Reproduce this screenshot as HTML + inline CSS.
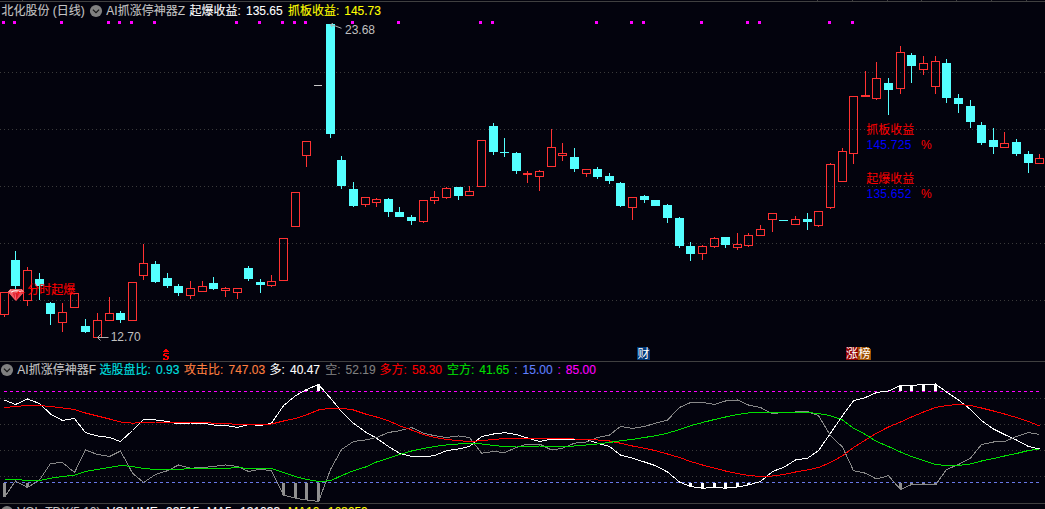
<!DOCTYPE html>
<html lang="zh"><head><meta charset="utf-8"><title>Stock chart</title>
<style>
html,body{margin:0;padding:0;background:#03030d}
#app{position:relative;width:1045px;height:509px;overflow:hidden;background:#03030d;font:12px/14px "Liberation Sans","Noto Sans CJK SC",sans-serif}
#chart{position:absolute;left:0;top:0}
.t{position:absolute;white-space:pre;font:12px/14px "Liberation Sans","Noto Sans CJK SC",sans-serif}
.b{-webkit-text-stroke:0.1px currentColor;word-spacing:1.7px}
</style></head><body>
<div id="app">
<svg id="chart" width="1045" height="509" viewBox="0 0 1045 509" shape-rendering="crispEdges">
<line x1="0" y1="72.5" x2="1045" y2="72.5" stroke="#3a3a3a" stroke-width="1" stroke-dasharray="1 3"/>
<line x1="0" y1="129.5" x2="1045" y2="129.5" stroke="#3a3a3a" stroke-width="1" stroke-dasharray="1 3"/>
<line x1="0" y1="186.5" x2="1045" y2="186.5" stroke="#3a3a3a" stroke-width="1" stroke-dasharray="1 3"/>
<line x1="0" y1="243.5" x2="1045" y2="243.5" stroke="#3a3a3a" stroke-width="1" stroke-dasharray="1 3"/>
<line x1="0" y1="300.5" x2="1045" y2="300.5" stroke="#3a3a3a" stroke-width="1" stroke-dasharray="1 3"/>
<line x1="0" y1="398.5" x2="1045" y2="398.5" stroke="#3a3a3a" stroke-width="1" stroke-dasharray="1 3"/>
<line x1="0" y1="424.5" x2="1045" y2="424.5" stroke="#3a3a3a" stroke-width="1" stroke-dasharray="1 3"/>
<line x1="0" y1="450.5" x2="1045" y2="450.5" stroke="#3a3a3a" stroke-width="1" stroke-dasharray="1 3"/>
<line x1="0" y1="476.5" x2="1045" y2="476.5" stroke="#3a3a3a" stroke-width="1" stroke-dasharray="1 3"/>
<rect x="0" y="1" width="1045" height="1" fill="#404040"/>
<rect x="22" y="0" width="1" height="1" fill="#404040"/>
<rect x="817" y="0" width="1" height="1" fill="#404040"/>
<rect x="852" y="0" width="1" height="1" fill="#404040"/>
<rect x="887" y="0" width="1" height="1" fill="#404040"/>
<rect x="921" y="0" width="1" height="1" fill="#404040"/>
<rect x="956" y="0" width="1" height="1" fill="#404040"/>
<rect x="991" y="0" width="1" height="1" fill="#404040"/>
<rect x="1026" y="0" width="1" height="1" fill="#404040"/>
<rect x="0" y="361" width="1045" height="1" fill="#404040"/>
<rect x="0" y="503" width="1045" height="1" fill="#404040"/>
<rect x="2" y="21" width="3" height="3" fill="#ff00ff"/>
<rect x="13" y="21" width="3" height="3" fill="#ff00ff"/>
<rect x="60" y="21" width="3" height="3" fill="#ff00ff"/>
<rect x="107" y="21" width="3" height="3" fill="#ff00ff"/>
<rect x="118" y="21" width="3" height="3" fill="#ff00ff"/>
<rect x="130" y="21" width="3" height="3" fill="#ff00ff"/>
<rect x="153" y="21" width="3" height="3" fill="#ff00ff"/>
<rect x="235" y="21" width="3" height="3" fill="#ff00ff"/>
<rect x="258" y="21" width="3" height="3" fill="#ff00ff"/>
<rect x="281" y="21" width="3" height="3" fill="#ff00ff"/>
<rect x="293" y="21" width="3" height="3" fill="#ff00ff"/>
<rect x="304" y="21" width="3" height="3" fill="#ff00ff"/>
<rect x="351" y="21" width="3" height="3" fill="#ff00ff"/>
<rect x="397" y="21" width="3" height="3" fill="#ff00ff"/>
<rect x="479" y="21" width="3" height="3" fill="#ff00ff"/>
<rect x="491" y="21" width="3" height="3" fill="#ff00ff"/>
<rect x="595" y="21" width="3" height="3" fill="#ff00ff"/>
<rect x="630" y="21" width="3" height="3" fill="#ff00ff"/>
<rect x="642" y="21" width="3" height="3" fill="#ff00ff"/>
<rect x="700" y="21" width="3" height="3" fill="#ff00ff"/>
<rect x="746" y="21" width="3" height="3" fill="#ff00ff"/>
<rect x="758" y="21" width="3" height="3" fill="#ff00ff"/>
<rect x="828" y="21" width="3" height="3" fill="#ff00ff"/>
<rect x="851" y="21" width="3" height="3" fill="#ff00ff"/>
<rect x="4" y="315" width="1" height="2" fill="#ff3232"/>
<rect x="0.5" y="292.5" width="8" height="22" fill="none" stroke="#ff3232" stroke-width="1"/>
<rect x="15" y="251" width="1" height="9" fill="#54ffff"/>
<rect x="15" y="286" width="1" height="4" fill="#54ffff"/>
<rect x="11" y="260" width="9" height="26" fill="#54ffff"/>
<rect x="27" y="267" width="1" height="3" fill="#ff3232"/>
<rect x="27" y="301" width="1" height="5" fill="#ff3232"/>
<rect x="23.5" y="270.5" width="8" height="30" fill="none" stroke="#ff3232" stroke-width="1"/>
<rect x="39" y="273" width="1" height="6" fill="#54ffff"/>
<rect x="39" y="286" width="1" height="14" fill="#54ffff"/>
<rect x="35" y="279" width="9" height="7" fill="#54ffff"/>
<rect x="50" y="302" width="1" height="1" fill="#54ffff"/>
<rect x="50" y="314" width="1" height="11" fill="#54ffff"/>
<rect x="46" y="303" width="9" height="11" fill="#54ffff"/>
<rect x="62" y="303" width="1" height="9" fill="#ff3232"/>
<rect x="62" y="323" width="1" height="9" fill="#ff3232"/>
<rect x="58.5" y="312.5" width="8" height="10" fill="none" stroke="#ff3232" stroke-width="1"/>
<rect x="70.5" y="293.5" width="8" height="14" fill="none" stroke="#ff3232" stroke-width="1"/>
<rect x="85" y="319" width="1" height="7" fill="#54ffff"/>
<rect x="85" y="332" width="1" height="1" fill="#54ffff"/>
<rect x="81" y="326" width="9" height="6" fill="#54ffff"/>
<rect x="97" y="313" width="1" height="7" fill="#ff3232"/>
<rect x="93.5" y="320.5" width="8" height="17" fill="none" stroke="#ff3232" stroke-width="1"/>
<rect x="109" y="297" width="1" height="16" fill="#ff3232"/>
<rect x="105.5" y="313.5" width="8" height="7" fill="none" stroke="#ff3232" stroke-width="1"/>
<rect x="120" y="311" width="1" height="2" fill="#54ffff"/>
<rect x="120" y="320" width="1" height="3" fill="#54ffff"/>
<rect x="116" y="313" width="9" height="7" fill="#54ffff"/>
<rect x="128.5" y="282.5" width="8" height="38" fill="none" stroke="#ff3232" stroke-width="1"/>
<rect x="143" y="244" width="1" height="19" fill="#ff3232"/>
<rect x="143" y="276" width="1" height="4" fill="#ff3232"/>
<rect x="139.5" y="263.5" width="8" height="12" fill="none" stroke="#ff3232" stroke-width="1"/>
<rect x="155" y="261" width="1" height="3" fill="#54ffff"/>
<rect x="155" y="282" width="1" height="1" fill="#54ffff"/>
<rect x="151" y="264" width="9" height="18" fill="#54ffff"/>
<rect x="167" y="273" width="1" height="5" fill="#54ffff"/>
<rect x="167" y="286" width="1" height="2" fill="#54ffff"/>
<rect x="163" y="278" width="9" height="8" fill="#54ffff"/>
<rect x="178" y="284" width="1" height="2" fill="#54ffff"/>
<rect x="178" y="293" width="1" height="3" fill="#54ffff"/>
<rect x="174" y="286" width="9" height="7" fill="#54ffff"/>
<rect x="190" y="281" width="1" height="7" fill="#ff3232"/>
<rect x="190" y="296" width="1" height="3" fill="#ff3232"/>
<rect x="186.5" y="288.5" width="8" height="7" fill="none" stroke="#ff3232" stroke-width="1"/>
<rect x="202" y="281" width="1" height="5" fill="#ff3232"/>
<rect x="198.5" y="286.5" width="8" height="5" fill="none" stroke="#ff3232" stroke-width="1"/>
<rect x="213" y="277" width="1" height="6" fill="#54ffff"/>
<rect x="213" y="289" width="1" height="1" fill="#54ffff"/>
<rect x="209" y="283" width="9" height="6" fill="#54ffff"/>
<rect x="225" y="287" width="1" height="1" fill="#ff3232"/>
<rect x="225" y="291" width="1" height="6" fill="#ff3232"/>
<rect x="221.5" y="288.5" width="8" height="2" fill="none" stroke="#ff3232" stroke-width="1"/>
<rect x="237" y="293" width="1" height="6" fill="#ff3232"/>
<rect x="233.5" y="288.5" width="8" height="4" fill="none" stroke="#ff3232" stroke-width="1"/>
<rect x="248" y="266" width="1" height="2" fill="#54ffff"/>
<rect x="248" y="279" width="1" height="2" fill="#54ffff"/>
<rect x="244" y="268" width="9" height="11" fill="#54ffff"/>
<rect x="260" y="279" width="1" height="3" fill="#54ffff"/>
<rect x="260" y="285" width="1" height="8" fill="#54ffff"/>
<rect x="256" y="282" width="9" height="3" fill="#54ffff"/>
<rect x="271" y="275" width="1" height="6" fill="#ff3232"/>
<rect x="271" y="286" width="1" height="1" fill="#ff3232"/>
<rect x="267.5" y="281.5" width="8" height="4" fill="none" stroke="#ff3232" stroke-width="1"/>
<rect x="279.5" y="238.5" width="8" height="42" fill="none" stroke="#ff3232" stroke-width="1"/>
<rect x="291.5" y="192.5" width="8" height="34" fill="none" stroke="#ff3232" stroke-width="1"/>
<rect x="306" y="156" width="1" height="11" fill="#ff3232"/>
<rect x="302.5" y="141.5" width="8" height="14" fill="none" stroke="#ff3232" stroke-width="1"/>
<rect x="330" y="134" width="1" height="4" fill="#54ffff"/>
<rect x="326" y="24" width="9" height="110" fill="#54ffff"/>
<rect x="341" y="156" width="1" height="4" fill="#54ffff"/>
<rect x="341" y="186" width="1" height="3" fill="#54ffff"/>
<rect x="337" y="160" width="9" height="26" fill="#54ffff"/>
<rect x="353" y="182" width="1" height="7" fill="#54ffff"/>
<rect x="353" y="206" width="1" height="1" fill="#54ffff"/>
<rect x="349" y="189" width="9" height="17" fill="#54ffff"/>
<rect x="365" y="205" width="1" height="2" fill="#ff3232"/>
<rect x="361.5" y="197.5" width="8" height="7" fill="none" stroke="#ff3232" stroke-width="1"/>
<rect x="376" y="198" width="1" height="1" fill="#ff3232"/>
<rect x="376" y="203" width="1" height="4" fill="#ff3232"/>
<rect x="372.5" y="199.5" width="8" height="3" fill="none" stroke="#ff3232" stroke-width="1"/>
<rect x="388" y="198" width="1" height="1" fill="#54ffff"/>
<rect x="388" y="212" width="1" height="5" fill="#54ffff"/>
<rect x="384" y="199" width="9" height="13" fill="#54ffff"/>
<rect x="399" y="207" width="1" height="5" fill="#54ffff"/>
<rect x="395" y="212" width="9" height="5" fill="#54ffff"/>
<rect x="411" y="215" width="1" height="2" fill="#54ffff"/>
<rect x="411" y="221" width="1" height="4" fill="#54ffff"/>
<rect x="407" y="217" width="9" height="4" fill="#54ffff"/>
<rect x="423" y="222" width="1" height="1" fill="#ff3232"/>
<rect x="419.5" y="200.5" width="8" height="21" fill="none" stroke="#ff3232" stroke-width="1"/>
<rect x="434" y="191" width="1" height="6" fill="#ff3232"/>
<rect x="434" y="201" width="1" height="3" fill="#ff3232"/>
<rect x="430.5" y="197.5" width="8" height="3" fill="none" stroke="#ff3232" stroke-width="1"/>
<rect x="446" y="187" width="1" height="1" fill="#ff3232"/>
<rect x="446" y="198" width="1" height="1" fill="#ff3232"/>
<rect x="442.5" y="188.5" width="8" height="9" fill="none" stroke="#ff3232" stroke-width="1"/>
<rect x="458" y="196" width="1" height="4" fill="#54ffff"/>
<rect x="454" y="187" width="9" height="9" fill="#54ffff"/>
<rect x="469" y="186" width="1" height="5" fill="#ff3232"/>
<rect x="465.5" y="191.5" width="8" height="4" fill="none" stroke="#ff3232" stroke-width="1"/>
<rect x="477.5" y="140.5" width="8" height="46" fill="none" stroke="#ff3232" stroke-width="1"/>
<rect x="493" y="123" width="1" height="3" fill="#54ffff"/>
<rect x="493" y="152" width="1" height="3" fill="#54ffff"/>
<rect x="489" y="126" width="9" height="26" fill="#54ffff"/>
<rect x="504" y="138" width="1" height="14" fill="#54ffff"/>
<rect x="504" y="153" width="1" height="4" fill="#54ffff"/>
<rect x="500" y="152" width="9" height="1" fill="#54ffff"/>
<rect x="516" y="152" width="1" height="1" fill="#54ffff"/>
<rect x="516" y="171" width="1" height="3" fill="#54ffff"/>
<rect x="512" y="153" width="9" height="18" fill="#54ffff"/>
<rect x="527" y="171" width="1" height="2" fill="#ff3232"/>
<rect x="527" y="175" width="1" height="8" fill="#ff3232"/>
<rect x="523" y="173" width="9" height="2" fill="#ff3232"/>
<rect x="539" y="170" width="1" height="1" fill="#ff3232"/>
<rect x="539" y="177" width="1" height="14" fill="#ff3232"/>
<rect x="535.5" y="171.5" width="8" height="5" fill="none" stroke="#ff3232" stroke-width="1"/>
<rect x="551" y="129" width="1" height="18" fill="#ff3232"/>
<rect x="547.5" y="147.5" width="8" height="19" fill="none" stroke="#ff3232" stroke-width="1"/>
<rect x="562" y="143" width="1" height="10" fill="#ff3232"/>
<rect x="562" y="156" width="1" height="5" fill="#ff3232"/>
<rect x="558.5" y="153.5" width="8" height="2" fill="none" stroke="#ff3232" stroke-width="1"/>
<rect x="574" y="148" width="1" height="9" fill="#54ffff"/>
<rect x="574" y="169" width="1" height="3" fill="#54ffff"/>
<rect x="570" y="157" width="9" height="12" fill="#54ffff"/>
<rect x="586" y="174" width="1" height="3" fill="#ff3232"/>
<rect x="582.5" y="169.5" width="8" height="4" fill="none" stroke="#ff3232" stroke-width="1"/>
<rect x="597" y="167" width="1" height="2" fill="#54ffff"/>
<rect x="597" y="177" width="1" height="2" fill="#54ffff"/>
<rect x="593" y="169" width="9" height="8" fill="#54ffff"/>
<rect x="609" y="173" width="1" height="3" fill="#54ffff"/>
<rect x="609" y="181" width="1" height="3" fill="#54ffff"/>
<rect x="605" y="176" width="9" height="5" fill="#54ffff"/>
<rect x="620" y="182" width="1" height="1" fill="#54ffff"/>
<rect x="620" y="206" width="1" height="1" fill="#54ffff"/>
<rect x="616" y="183" width="9" height="23" fill="#54ffff"/>
<rect x="632" y="208" width="1" height="12" fill="#ff3232"/>
<rect x="628.5" y="197.5" width="8" height="10" fill="none" stroke="#ff3232" stroke-width="1"/>
<rect x="644" y="195" width="1" height="1" fill="#54ffff"/>
<rect x="644" y="200" width="1" height="3" fill="#54ffff"/>
<rect x="640" y="196" width="9" height="4" fill="#54ffff"/>
<rect x="651" y="200" width="9" height="6" fill="#54ffff"/>
<rect x="667" y="204" width="1" height="1" fill="#54ffff"/>
<rect x="667" y="218" width="1" height="5" fill="#54ffff"/>
<rect x="663" y="205" width="9" height="13" fill="#54ffff"/>
<rect x="679" y="217" width="1" height="1" fill="#54ffff"/>
<rect x="679" y="246" width="1" height="2" fill="#54ffff"/>
<rect x="675" y="218" width="9" height="28" fill="#54ffff"/>
<rect x="690" y="242" width="1" height="4" fill="#54ffff"/>
<rect x="690" y="254" width="1" height="7" fill="#54ffff"/>
<rect x="686" y="246" width="9" height="8" fill="#54ffff"/>
<rect x="702" y="245" width="1" height="1" fill="#ff3232"/>
<rect x="702" y="254" width="1" height="6" fill="#ff3232"/>
<rect x="698.5" y="246.5" width="8" height="7" fill="none" stroke="#ff3232" stroke-width="1"/>
<rect x="714" y="237" width="1" height="1" fill="#ff3232"/>
<rect x="714" y="247" width="1" height="1" fill="#ff3232"/>
<rect x="710.5" y="238.5" width="8" height="8" fill="none" stroke="#ff3232" stroke-width="1"/>
<rect x="725" y="245" width="1" height="3" fill="#54ffff"/>
<rect x="721" y="237" width="9" height="8" fill="#54ffff"/>
<rect x="737" y="233" width="1" height="11" fill="#ff3232"/>
<rect x="737" y="248" width="1" height="2" fill="#ff3232"/>
<rect x="733.5" y="244.5" width="8" height="3" fill="none" stroke="#ff3232" stroke-width="1"/>
<rect x="748" y="233" width="1" height="2" fill="#ff3232"/>
<rect x="748" y="246" width="1" height="1" fill="#ff3232"/>
<rect x="744.5" y="235.5" width="8" height="10" fill="none" stroke="#ff3232" stroke-width="1"/>
<rect x="760" y="225" width="1" height="4" fill="#ff3232"/>
<rect x="756.5" y="229.5" width="8" height="6" fill="none" stroke="#ff3232" stroke-width="1"/>
<rect x="772" y="220" width="1" height="12" fill="#ff3232"/>
<rect x="768.5" y="213.5" width="8" height="6" fill="none" stroke="#ff3232" stroke-width="1"/>
<rect x="779" y="220" width="9" height="1" fill="#54ffff"/>
<rect x="795" y="216" width="1" height="3" fill="#ff3232"/>
<rect x="791.5" y="219.5" width="8" height="5" fill="none" stroke="#ff3232" stroke-width="1"/>
<rect x="807" y="213" width="1" height="6" fill="#54ffff"/>
<rect x="807" y="222" width="1" height="8" fill="#54ffff"/>
<rect x="803" y="219" width="9" height="3" fill="#54ffff"/>
<rect x="818" y="226" width="1" height="1" fill="#ff3232"/>
<rect x="814.5" y="211.5" width="8" height="14" fill="none" stroke="#ff3232" stroke-width="1"/>
<rect x="830" y="163" width="1" height="1" fill="#ff3232"/>
<rect x="830" y="208" width="1" height="1" fill="#ff3232"/>
<rect x="826.5" y="164.5" width="8" height="43" fill="none" stroke="#ff3232" stroke-width="1"/>
<rect x="842" y="148" width="1" height="3" fill="#ff3232"/>
<rect x="838.5" y="151.5" width="8" height="30" fill="none" stroke="#ff3232" stroke-width="1"/>
<rect x="853" y="154" width="1" height="10" fill="#ff3232"/>
<rect x="849.5" y="96.5" width="8" height="57" fill="none" stroke="#ff3232" stroke-width="1"/>
<rect x="865" y="71" width="1" height="24" fill="#ff3232"/>
<rect x="861" y="95" width="9" height="2" fill="#ff3232"/>
<rect x="876" y="62" width="1" height="16" fill="#ff3232"/>
<rect x="876" y="99" width="1" height="1" fill="#ff3232"/>
<rect x="872.5" y="78.5" width="8" height="20" fill="none" stroke="#ff3232" stroke-width="1"/>
<rect x="888" y="78" width="1" height="5" fill="#54ffff"/>
<rect x="888" y="90" width="1" height="25" fill="#54ffff"/>
<rect x="884" y="83" width="9" height="7" fill="#54ffff"/>
<rect x="900" y="46" width="1" height="6" fill="#ff3232"/>
<rect x="900" y="89" width="1" height="5" fill="#ff3232"/>
<rect x="896.5" y="52.5" width="8" height="36" fill="none" stroke="#ff3232" stroke-width="1"/>
<rect x="911" y="53" width="1" height="2" fill="#54ffff"/>
<rect x="911" y="66" width="1" height="17" fill="#54ffff"/>
<rect x="907" y="55" width="9" height="11" fill="#54ffff"/>
<rect x="923" y="56" width="1" height="7" fill="#ff3232"/>
<rect x="923" y="70" width="1" height="5" fill="#ff3232"/>
<rect x="919.5" y="63.5" width="8" height="6" fill="none" stroke="#ff3232" stroke-width="1"/>
<rect x="935" y="56" width="1" height="5" fill="#ff3232"/>
<rect x="935" y="87" width="1" height="7" fill="#ff3232"/>
<rect x="931.5" y="61.5" width="8" height="25" fill="none" stroke="#ff3232" stroke-width="1"/>
<rect x="946" y="59" width="1" height="4" fill="#54ffff"/>
<rect x="946" y="98" width="1" height="5" fill="#54ffff"/>
<rect x="942" y="63" width="9" height="35" fill="#54ffff"/>
<rect x="958" y="94" width="1" height="4" fill="#54ffff"/>
<rect x="958" y="104" width="1" height="9" fill="#54ffff"/>
<rect x="954" y="98" width="9" height="6" fill="#54ffff"/>
<rect x="970" y="100" width="1" height="6" fill="#54ffff"/>
<rect x="970" y="122" width="1" height="6" fill="#54ffff"/>
<rect x="966" y="106" width="9" height="16" fill="#54ffff"/>
<rect x="981" y="122" width="1" height="3" fill="#54ffff"/>
<rect x="981" y="143" width="1" height="2" fill="#54ffff"/>
<rect x="977" y="125" width="9" height="18" fill="#54ffff"/>
<rect x="993" y="128" width="1" height="12" fill="#54ffff"/>
<rect x="993" y="147" width="1" height="7" fill="#54ffff"/>
<rect x="989" y="140" width="9" height="7" fill="#54ffff"/>
<rect x="1004" y="132" width="1" height="11" fill="#ff3232"/>
<rect x="1000.5" y="143.5" width="8" height="4" fill="none" stroke="#ff3232" stroke-width="1"/>
<rect x="1016" y="139" width="1" height="3" fill="#54ffff"/>
<rect x="1016" y="154" width="1" height="2" fill="#54ffff"/>
<rect x="1012" y="142" width="9" height="12" fill="#54ffff"/>
<rect x="1028" y="151" width="1" height="3" fill="#54ffff"/>
<rect x="1028" y="163" width="1" height="10" fill="#54ffff"/>
<rect x="1024" y="154" width="9" height="9" fill="#54ffff"/>
<rect x="1039" y="154" width="1" height="4" fill="#ff3232"/>
<rect x="1035.5" y="158.5" width="8" height="5" fill="none" stroke="#ff3232" stroke-width="1"/>
<rect x="314" y="85" width="8" height="1" fill="#c8c8c8"/>
<g shape-rendering="auto" stroke="#b0b0b0" stroke-width="1" fill="none"><path d="M330.8 24.8 L335.5 26 L341.5 28.3"/><path d="M333 23.3 L330.5 24.7 L332.3 27.3"/></g>
<g shape-rendering="auto" stroke="#b0b0b0" stroke-width="1" fill="none"><path d="M97.5 337.5 H108.5"/><path d="M100.5 334.5 L97.5 337.5 L100.5 340.5"/></g>
<g fill="#ff0000"><rect x="165" y="349" width="2" height="1"/><rect x="164" y="350" width="4" height="1"/><rect x="163" y="351" width="6" height="1"/><rect x="164" y="353" width="5" height="1"/><rect x="163" y="354" width="2" height="1"/><rect x="163" y="355" width="4" height="1"/><rect x="165" y="356" width="4" height="1"/><rect x="167" y="357" width="2" height="1"/><rect x="163" y="358" width="2" height="1"/><rect x="167" y="358" width="2" height="1"/><rect x="163" y="359" width="5" height="1"/></g>
<path d="M637 347 H647 L650 350 V360 H637 Z" fill="#003878"/>
<rect x="846" y="347" width="12" height="13" fill="#900000"/>
<path d="M858 347 H868 L871 350 V360 H858 Z" fill="#a05000"/>
<text x="637.5" y="358" font-size="12" fill="#ffffff" font-family="'Liberation Sans','Noto Sans CJK SC',sans-serif" shape-rendering="auto">财</text>
<text x="846" y="358" font-size="12" fill="#ffffff" font-family="'Liberation Sans','Noto Sans CJK SC',sans-serif" shape-rendering="auto">涨</text>
<text x="858.5" y="358" font-size="12" fill="#ffffff" font-family="'Liberation Sans','Noto Sans CJK SC',sans-serif" shape-rendering="auto">榜</text>
<line x1="4" y1="391.5" x2="1040" y2="391.5" stroke="#ff00ff" stroke-width="1" stroke-dasharray="3 3"/>
<line x1="4" y1="482.5" x2="1040" y2="482.5" stroke="#6878e8" stroke-width="1" stroke-dasharray="3 3"/>
<rect x="3" y="483" width="3" height="14" fill="#909090"/>
<rect x="26" y="483" width="3" height="4" fill="#909090"/>
<rect x="282" y="483" width="3" height="12" fill="#909090"/>
<rect x="294" y="483" width="3" height="15" fill="#909090"/>
<rect x="305" y="483" width="3" height="17" fill="#909090"/>
<rect x="305" y="390" width="3" height="1" fill="#ffffff"/>
<rect x="317" y="483" width="3" height="18" fill="#909090"/>
<rect x="317" y="384" width="3" height="7" fill="#ffffff"/>
<rect x="689" y="483" width="3" height="4" fill="#ffffff"/>
<rect x="701" y="483" width="3" height="5" fill="#ffffff"/>
<rect x="713" y="483" width="3" height="4" fill="#ffffff"/>
<rect x="724" y="483" width="3" height="5" fill="#ffffff"/>
<rect x="736" y="483" width="3" height="4" fill="#ffffff"/>
<rect x="747" y="483" width="3" height="2" fill="#ffffff"/>
<rect x="899" y="483" width="3" height="6" fill="#909090"/>
<rect x="899" y="386" width="3" height="5" fill="#ffffff"/>
<rect x="910" y="483" width="3" height="2" fill="#909090"/>
<rect x="910" y="386" width="3" height="5" fill="#ffffff"/>
<rect x="922" y="483" width="3" height="2" fill="#909090"/>
<rect x="922" y="384" width="3" height="7" fill="#ffffff"/>
<rect x="934" y="483" width="3" height="2" fill="#909090"/>
<rect x="934" y="384" width="3" height="7" fill="#ffffff"/>
<polyline points="4.5,400 15.5,404.5 27.5,399 39.5,403.5 50.5,414 62.5,420.5 74.5,418.5 85.5,432.7 97.5,436 109.5,437.5 120.5,441.5 132.5,430.5 143.5,419.5 155.5,420 167.5,421.5 178.5,424 190.5,423 202.5,423 213.5,425 225.5,425.5 237.5,427.5 248.5,424.5 260.5,425.5 271.5,423.2 283.5,405.7 295.5,395.7 306.5,389.5 318.5,384.5 330.5,398.2 341.5,411.5 353.5,423.2 365.5,432 376.5,438.2 388.5,446.5 399.5,453.2 411.5,456.5 423.5,457 434.5,455.5 446.5,450.7 458.5,449 469.5,446.5 481.5,436.5 493.5,434 504.5,432.7 516.5,434.5 527.5,438 539.5,441.5 551.5,439 562.5,439 574.5,439.5 586.5,439.5 597.5,443.2 609.5,446.5 620.5,455 632.5,458.2 644.5,462 655.5,465.7 667.5,472 679.5,482 690.5,486.5 702.5,488.2 714.5,487.5 725.5,488.2 737.5,487 748.5,485 760.5,481.5 772.5,471.5 783.5,467.5 795.5,460 807.5,458.2 818.5,450.7 830.5,433.2 842.5,415.7 853.5,400.7 865.5,397.5 876.5,392.5 888.5,391 900.5,385.5 911.5,385.5 923.5,384.5 935.5,384 946.5,392 958.5,400 970.5,409.5 981.5,420.7 993.5,429 1004.5,434.5 1016.5,440 1028.5,446.5 1039.5,449" fill="none" stroke="#ffffff" stroke-width="1" stroke-linejoin="round" shape-rendering="crispEdges"/>
<polyline points="4.5,497 15.5,481 27.5,487.5 39.5,480 50.5,463.5 62.5,462.5 74.5,472.5 85.5,450 97.5,454.5 109.5,456.5 120.5,451 132.5,473.2 143.5,482.5 155.5,474.5 167.5,470.7 178.5,465 190.5,468.2 202.5,467.5 213.5,466.5 225.5,465 237.5,466.5 248.5,471.5 260.5,469 271.5,471 283.5,495 295.5,498.2 306.5,500 318.5,501.5 330.5,469.5 341.5,449.5 353.5,441.5 365.5,440 376.5,437.5 388.5,432.5 399.5,430.7 411.5,427.5 423.5,433.2 434.5,435.7 446.5,437.5 458.5,436 469.5,437.5 481.5,453.2 493.5,451.5 504.5,452.5 516.5,447.5 527.5,444 539.5,444 551.5,450 562.5,448.2 574.5,443.2 586.5,442 597.5,437.5 609.5,435 620.5,426.5 632.5,428.5 644.5,426.5 655.5,423.2 667.5,420 679.5,407.5 690.5,402.5 702.5,402.5 714.5,404.5 725.5,401 737.5,400 748.5,405 760.5,407.5 772.5,414 783.5,412 795.5,412 807.5,411.5 818.5,415.7 830.5,435.7 842.5,447 853.5,470.7 865.5,473.2 876.5,479 888.5,475.7 900.5,489.5 911.5,484.5 923.5,484.5 935.5,485 946.5,469.5 958.5,464.5 970.5,458.2 981.5,444.5 993.5,442 1004.5,441.5 1016.5,436.5 1028.5,432.5 1039.5,434.5" fill="none" stroke="#888888" stroke-width="1" stroke-linejoin="round" shape-rendering="crispEdges"/>
<polyline points="4.5,407.5 15.5,406.5 27.5,405.5 39.5,405.5 50.5,406.5 62.5,408 74.5,409.5 85.5,413 97.5,416 109.5,419 120.5,422 132.5,423.2 143.5,422.5 155.5,422 167.5,422 178.5,422.5 190.5,422.5 202.5,422.5 213.5,423.2 225.5,423.5 237.5,424.5 248.5,424.7 260.5,425 271.5,424 283.5,421 295.5,418.5 306.5,414.8 318.5,410 330.5,408.3 341.5,408.2 353.5,410 365.5,414 376.5,417 388.5,420.7 399.5,425.7 411.5,430 423.5,434.5 434.5,437.5 446.5,439.5 458.5,440.7 469.5,441.5 481.5,440.7 493.5,439.5 504.5,438.5 516.5,438.5 527.5,438.5 539.5,438.5 551.5,438.5 562.5,438.7 574.5,439 586.5,439.2 597.5,440 609.5,441 620.5,443.2 632.5,446 644.5,448.2 655.5,450.7 667.5,454 679.5,457.5 690.5,461.5 702.5,465 714.5,468.2 725.5,471 737.5,473.5 748.5,475.5 760.5,476.5 772.5,476 783.5,474.5 795.5,472 807.5,470 818.5,467.5 830.5,462.5 842.5,455.7 853.5,447.5 865.5,440 876.5,433.2 888.5,427 900.5,422 911.5,417 923.5,412 935.5,407.5 946.5,405.5 958.5,404.5 970.5,405.5 981.5,408 993.5,411 1004.5,414 1016.5,417.5 1028.5,421.5 1039.5,426" fill="none" stroke="#ff0000" stroke-width="1" stroke-linejoin="round" shape-rendering="crispEdges"/>
<polyline points="4.5,479.5 15.5,479.5 27.5,480.5 39.5,480.5 50.5,478.2 62.5,476.5 74.5,475.2 85.5,471.5 97.5,469.5 109.5,467.5 120.5,465.5 132.5,466.5 143.5,468.5 155.5,469.5 167.5,469.5 178.5,469.5 190.5,468.5 202.5,468.5 213.5,468.5 225.5,468.5 237.5,467.5 248.5,468.5 260.5,468.5 271.5,468.5 283.5,472.5 295.5,476.5 306.5,479.5 318.5,481.5 330.5,480.7 341.5,475.7 353.5,470.7 365.5,467 376.5,462 388.5,458.2 399.5,454.5 411.5,451 423.5,448.5 434.5,446.5 446.5,445 458.5,444 469.5,443.2 481.5,444 493.5,445.5 504.5,446.5 516.5,446 527.5,446.2 539.5,446 551.5,446.5 562.5,446.5 574.5,446 586.5,445 597.5,444 609.5,442.5 620.5,440.7 632.5,439.5 644.5,437.5 655.5,435.7 667.5,433.2 679.5,429.5 690.5,425.7 702.5,422.5 714.5,419.5 725.5,417 737.5,414.5 748.5,413 760.5,412.2 772.5,412.5 783.5,412.5 795.5,412.5 807.5,412.5 818.5,413.5 830.5,415.7 842.5,420 853.5,428.2 865.5,434.5 876.5,441.5 888.5,446.5 900.5,452 911.5,456.5 923.5,460.5 935.5,464.5 946.5,465.5 958.5,465.5 970.5,464 981.5,461 993.5,458.5 1004.5,456 1016.5,453.5 1028.5,450.5 1039.5,449" fill="none" stroke="#00e000" stroke-width="1" stroke-linejoin="round" shape-rendering="crispEdges"/>
<g shape-rendering="auto"><path d="M10.6 289 H21.6 L24.1 292 L15.9 301.1 L8 292 Z" fill="#e01828"/><path d="M10.6 289 H21.6 L24.1 292 H8 Z" fill="#f26468"/><path d="M8 292 H12.2 L15.9 301.1 Z" fill="#f0606a"/><path d="M19.8 292 H24.1 L15.9 301.1 Z" fill="#ec4a56"/><path d="M10.6 289 L8 292 L11.5 291.4 Z" fill="#f8a0a0"/><path d="M21.6 289 L24.1 292 L20.6 291.4 Z" fill="#f89090"/><path d="M11.3 292.2 Q15.6 289.4 20.8 292.2" stroke="#fff4f4" stroke-width="1.1" fill="none"/><path d="M12.6 293.2 Q15.8 291.6 19.4 293.2" stroke="#f88" stroke-width="0.6" fill="none"/><path d="M15.1 293.5 L15.8 300" stroke="#ff9aa0" stroke-width="0.6" fill="none"/></g>
<g shape-rendering="auto"><circle cx="96" cy="11" r="6.1" fill="#808080"/><path d="M92.9 9.6 l3.1 3 l3.1 -3" stroke="#151515" stroke-width="1.2" fill="none"/></g>
<g shape-rendering="auto"><circle cx="7" cy="370" r="6.1" fill="#808080"/><path d="M3.9 368.6 l3.1 3 l3.1 -3" stroke="#151515" stroke-width="1.2" fill="none"/></g>
<g shape-rendering="auto"><circle cx="7" cy="512" r="6.1" fill="#808080"/><path d="M3.9 510.6 l3.1 3 l3.1 -3" stroke="#151515" stroke-width="1.2" fill="none"/></g>
</svg>
<div class="t b" style="left:1.4px;top:4px;color:#c4c4c4;word-spacing:0">北化股份 (日线)</div>
<div class="t b" style="left:106.3px;top:4px;color:#c4c4c4;">AI抓涨停神器Z</div>
<div class="t b" style="left:189.6px;top:4px;color:#ffffff;">起爆收益: 135.65</div>
<div class="t b" style="left:287.9px;top:4px;color:#ffff00;">抓板收益: 145.73</div>
<div class="t n" style="left:345px;top:23px;color:#c0c0c0;">23.68</div>
<div class="t n" style="left:110.7px;top:330px;color:#c0c0c0;">12.70</div>
<div class="t b" style="left:15.2px;top:283.1px;color:#ff0000;">←分时起爆</div>
<div class="t n" style="left:866.2px;top:122.6px;color:#ff0000;">抓板收益</div>
<div class="t n" style="left:866.5px;top:138px;color:#0000ff;letter-spacing:.25px">145.725</div>
<div class="t n" style="left:921px;top:138px;color:#ff0000;">%</div>
<div class="t n" style="left:866.2px;top:171.6px;color:#ff0000;">起爆收益</div>
<div class="t n" style="left:866.5px;top:187px;color:#0000ff;letter-spacing:.25px">135.652</div>
<div class="t n" style="left:921px;top:187px;color:#ff0000;">%</div>
<div class="t b" style="left:17.3px;top:363px;color:#c4c4c4;">AI抓涨停神器F</div>
<div class="t b" style="left:99.6px;top:363px;color:#00e0e0;">选股盘比: 0.93</div>
<div class="t b" style="left:184.1px;top:363px;color:#ff8040;">攻击比: 747.03</div>
<div class="t b" style="left:269.6px;top:363px;color:#ffffff;">多: 40.47</div>
<div class="t b" style="left:325.2px;top:363px;color:#808080;">空: 52.19</div>
<div class="t b" style="left:379.6px;top:363px;color:#ff0000;">多方: 58.30</div>
<div class="t b" style="left:446.9px;top:363px;color:#00e000;">空方: 41.65</div>
<div class="t b" style="left:514.2px;top:363px;color:#6080ff;">: 15.00</div>
<div class="t b" style="left:557.5px;top:363px;color:#ff00ff;">: 85.00</div>
<div class="t b" style="left:17.2px;top:504.8px;color:#c4c4c4;">VOL-TDX(5,10)</div>
<div class="t b" style="left:107px;top:504.8px;color:#ffffff;">VOLUME: 92515</div>
<div class="t b" style="left:207px;top:504.8px;color:#ffffff;">MA5: 121033</div>
<div class="t b" style="left:288px;top:504.8px;color:#ffff00;">MA10: 168659</div>
</div>
</body></html>
